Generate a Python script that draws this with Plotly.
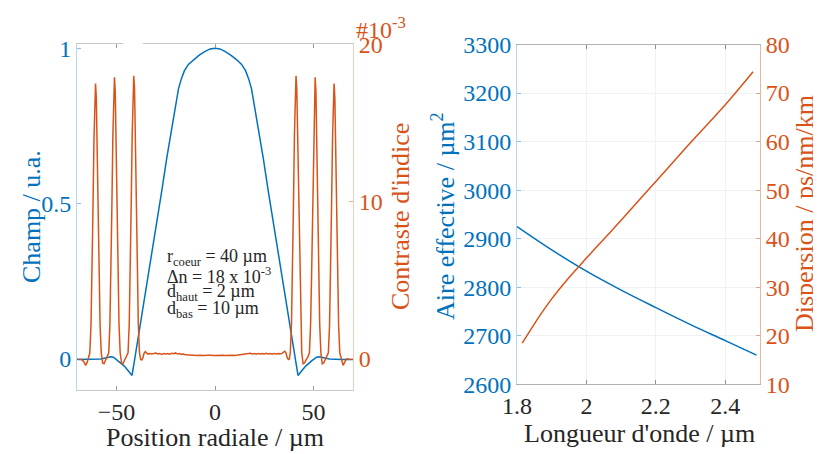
import plotly.graph_objects as go

BLUE = "#0072BD"
ORANGE = "#D95319"
DARK = "#262626"
FONT = "Liberation Serif"

# ---------------- Left panel: field profile ----------------
field_x = [-70, -64, -58, -55, -53, -51.5, -49, -46, -43.5, -42.1, -41.3, -40.6, -38.3, -35, -32, -29.6,
           -27, -24.5, -22, -20, -18.5, -17, -15.5, -13.5, -11, -8, -5, -2.5, 0,
           2.5, 5, 8, 11, 13.5, 15.5, 17, 18.5, 20, 22, 24.5, 27, 29.6, 32, 35, 38.3,
           40.6, 41.3, 42.1, 43.5, 46, 49, 51.5, 53, 55, 58, 64, 70]
field_y = [-0.004, -0.004, -0.002, 0.002, 0.005, 0.004, -0.008, -0.025, -0.044, -0.055, -0.025, 0.002, 0.09, 0.22, 0.34, 0.438,
           0.54, 0.645, 0.735, 0.815, 0.87, 0.903, 0.928, 0.948, 0.963, 0.978, 0.99, 0.998, 1.0,
           0.998, 0.99, 0.978, 0.963, 0.948, 0.928, 0.903, 0.87, 0.815, 0.735, 0.645, 0.54, 0.438, 0.34, 0.22, 0.09,
           0.002, -0.025, -0.055, -0.044, -0.025, -0.008, 0.004, 0.005, 0.002, -0.002, -0.004, -0.004]

# Index contrast profile (units of 1e-3)
index_x = [-70, -68, -66.6, -65.6, -64.8,
           -63.5, -62.9, -62.4, -61.9, -61.4, -61.0, -60.6, -60.2, -59.8, -59.3, -58.8, -58.3, -57.7,
           -57.0, -56.3, -55.5, -54.8,
           -53.9, -53.3, -52.8, -52.3, -51.8, -51.4, -51.0, -50.6, -50.2, -49.7, -49.2, -48.7, -48.1,
           -47.4, -46.7, -45.9, -45.0,
           -44.1, -43.5, -43.0, -42.5, -42.0, -41.6, -41.2, -40.8, -40.4, -39.9, -39.4, -38.9, -38.3,
           -37.7, -37.1, -36.5, -36.0, -35.4,
           -34, -33, -32, -31, -30, -29, -28, -27, -26, -25, -24, -23, -22, -21, -20, -19, -18, -17, -16, -15,
           -14, -13, -12, -11, -10, -9, -8, -7, -6, -5, -4, -3, -2, -1, 0, 1, 2, 3, 4, 5, 6, 7, 8, 9, 10,
           11, 12, 13, 14, 15, 16, 17, 18, 19, 20, 21, 22, 23, 24, 25, 26, 27, 28, 29, 30, 31, 32, 33, 34,
           35.4, 36.0, 36.6, 37.2, 37.7,
           38.2, 38.8, 39.3, 39.8, 40.3, 40.7, 41.1, 41.5, 41.9, 42.4, 42.9, 43.4, 44.0,
           44.7, 45.4, 46.2, 47.0,
           47.9, 48.5, 49.0, 49.5, 50.0, 50.4, 50.8, 51.2, 51.6, 52.1, 52.6, 53.1, 53.7,
           54.4, 55.1, 55.9, 56.7,
           57.5, 58.1, 58.6, 59.1, 59.6, 60.0, 60.4, 60.8, 61.2, 61.7, 62.2, 62.7, 63.3,
           64.2, 65.0, 65.8, 66.6, 68, 70]
index_y = [-0.05, -0.05, -0.2, -0.45, -0.25,
           0.35, 2.1, 5.2, 9.5, 13.9, 16.6, 17.5, 16.6, 13.9, 9.5, 5.2, 2.1, 0.35,
           -0.3, -0.35, -0.1, 0.0,
           0.35, 2.2, 5.3, 9.7, 14.2, 17.0, 17.9, 17.0, 14.2, 9.7, 5.3, 2.2, 0.35,
           -0.3, -0.35, -0.15, 0.05,
           0.35, 2.2, 5.4, 9.8, 14.3, 17.1, 18.0, 17.1, 14.3, 9.8, 5.4, 2.2, 0.35,
           -0.08, -0.1, 0.05, 0.32, 0.42,
           0.27, 0.31, 0.27, 0.29, 0.33, 0.27, 0.30, 0.25, 0.31, 0.28, 0.30, 0.26, 0.32, 0.29, 0.34, 0.27, 0.30, 0.25, 0.27, 0.22,
           0.21, 0.19, 0.20, 0.18, 0.19, 0.18, 0.20, 0.18, 0.19, 0.18, 0.19, 0.17, 0.19, 0.18, 0.19, 0.18, 0.19, 0.18, 0.20, 0.18, 0.19, 0.18, 0.20, 0.19, 0.18,
           0.20, 0.19, 0.21, 0.22, 0.26, 0.29, 0.27, 0.32, 0.28, 0.30, 0.26, 0.31, 0.28, 0.30, 0.27, 0.32, 0.28, 0.30, 0.26, 0.31, 0.28, 0.30, 0.27, 0.31,
           0.45, 0.35, 0.05, -0.08, -0.05,
           0.35, 2.2, 5.4, 9.8, 14.3, 17.1, 18.0, 17.1, 14.3, 9.8, 5.4, 2.2, 0.35,
           -0.35, -0.3, -0.1, 0.05,
           0.35, 2.2, 5.3, 9.7, 14.2, 17.0, 17.9, 17.0, 14.2, 9.7, 5.3, 2.2, 0.35,
           -0.35, -0.3, -0.1, 0.05,
           0.35, 2.1, 5.2, 9.5, 13.9, 16.6, 17.5, 16.6, 13.9, 9.5, 5.2, 2.1, 0.35,
           -0.2, -0.45, -0.25, -0.05, -0.05, -0.05]

field_ticks = [0, 0.5, 1]
field_ticktext = ["0", "0.5", "1"]
index_ticks = [0, 10, 20]
pos_ticks = [-50, 0, 50]

# ---------------- Right panel: effective area & dispersion ----------------
aeff_wl = [1.8, 1.9, 2.0, 2.1, 2.2, 2.3, 2.4, 2.49]
aeff_val = [2925, 2877, 2833, 2794, 2758, 2723, 2690, 2660]
disp_wl = [1.815, 1.84, 1.87, 1.9, 1.95, 2.0, 2.05, 2.1, 2.2, 2.3, 2.4, 2.48]
disp_val = [18.5, 21.3, 24.6, 27.6, 32.0, 36.0, 39.9, 43.8, 51.8, 59.8, 67.6, 74.4]

wl_ticks = [1.8, 2.0, 2.2, 2.4]
wl_ticktext = ["1.8", "2", "2.2", "2.4"]

fig = go.Figure()
fig.add_trace(go.Scatter(x=field_x, y=field_y, mode="lines", line=dict(color=BLUE, width=1.5),
                         xaxis="x", yaxis="y", showlegend=False))
fig.add_trace(go.Scatter(x=index_x, y=index_y, mode="lines", line=dict(color=ORANGE, width=1.5),
                         xaxis="x", yaxis="y2", showlegend=False))
fig.add_trace(go.Scatter(x=aeff_wl, y=aeff_val, mode="lines", line=dict(color=BLUE, width=1.5, shape="spline"),
                         xaxis="x2", yaxis="y3", showlegend=False))
fig.add_trace(go.Scatter(x=disp_wl, y=disp_val, mode="lines", line=dict(color=ORANGE, width=1.5, shape="spline"),
                         xaxis="x2", yaxis="y4", showlegend=False))

# page has an 8px body margin: the figure is drawn from (8, 8) of the window
OFF = 8
W, H = 821 - OFF, 454 - OFF
def px(x):
    return (x - OFF) / W
def py(y):
    return 1 - (y - OFF) / H

TS = 24   # tick size
common = dict(ticks="inside", ticklen=4, showgrid=False, zeroline=False, showline=True, linewidth=1,
              automargin=False)

fig.update_layout(
    width=W, height=H,
    margin=dict(l=0, r=0, t=0, b=0, autoexpand=False),
    paper_bgcolor="white", plot_bgcolor="white",
    font=dict(family=FONT, color=DARK),
    xaxis=dict(domain=[px(77), px(353)], anchor="y", range=[-70, 70], tickvals=pos_ticks,
               tickfont=dict(family=FONT, size=TS, color=DARK), linecolor="#c8c8c8", tickcolor="#9a9a9a",
               mirror="ticks", **common),
    yaxis=dict(domain=[py(390), py(44.3)], anchor="x", range=[-0.102, 1.013], tickvals=field_ticks,
               ticktext=field_ticktext, tickfont=dict(family=FONT, size=TS, color=BLUE),
               linecolor="#b9d6ee", tickcolor="#8fbde2", **common),
    yaxis2=dict(overlaying="y", side="right", anchor="x", range=[-2.02, 20], tickvals=index_ticks,
                tickfont=dict(family=FONT, size=TS, color=ORANGE),
                linecolor="#f2cdbd", tickcolor="#eab19a", **common),
    xaxis2=dict(domain=[px(517), px(760)], anchor="y3", range=[1.8, 2.5], tickvals=wl_ticks,
                ticktext=wl_ticktext, tickfont=dict(family=FONT, size=TS, color=DARK),
                ticks="inside", ticklen=4, showgrid=True, gridcolor="#eef2f6", zeroline=False,
                showline=True, linecolor="#b0b0b0", tickcolor="#909090", mirror="ticks", automargin=False),
    yaxis3=dict(domain=[py(384.3), py(44.5)], anchor="x2", range=[2600, 3300], dtick=100,
                tickfont=dict(family=FONT, size=TS, color=BLUE),
                ticks="inside", ticklen=4, showgrid=True, gridcolor="#eef2f6", zeroline=False,
                showline=True, linecolor="#b9d6ee", tickcolor="#8fbde2", automargin=False),
    yaxis4=dict(overlaying="y3", side="right", anchor="x2", range=[10, 80], dtick=10,
                tickfont=dict(family=FONT, size=TS, color=ORANGE),
                linecolor="#e8b7a2", tickcolor="#e0a58c", **common),
)

# small white gap in the top frame line of the left panel (as in the reference)
fig.add_shape(type="rect", xref="paper", yref="paper", x0=px(123), x1=px(143), y0=py(47), y1=py(41),
              fillcolor="white", line=dict(width=0), layer="above")

ann = []
def add(text, x, y, size=26, color=DARK, angle=0, xanchor="center", yanchor="middle"):
    ann.append(dict(text=text, x=x, y=y, xref="paper", yref="paper", showarrow=False,
                    font=dict(family=FONT, size=size, color=color), textangle=angle,
                    xanchor=xanchor, yanchor=yanchor))

add("Position radiale / µm", px(214.5), py(437))
add("Longueur d'onde / µm", px(639), py(433))
add("Champ / u.a.", px(31), py(217), color=BLUE, angle=-90)
add("Contraste d'indice", px(400), py(217), color=ORANGE, angle=-90)
add("Aire effective / µm<sup>2</sup>", px(443), py(216), color=BLUE, angle=-90)
add("Dispersion / ps/nm/km", px(804), py(214), color=ORANGE, angle=-90)
add("#10<sup>-3</sup>", px(354), py(28), size=24, color=ORANGE, xanchor="left")

lines = ["r<sub>coeur</sub> = 40 µm", "Δn = 18 x 10<sup>-3</sup>",
         "d<sub>haut</sub> = 2 µm", "d<sub>bas</sub> = 10 µm"]
for i, t in enumerate(lines):
    add(t, px(165), py(258 + 17 * i), size=18, color=DARK, xanchor="left")

fig.update_layout(annotations=ann)
fig.write_html("out.html")
